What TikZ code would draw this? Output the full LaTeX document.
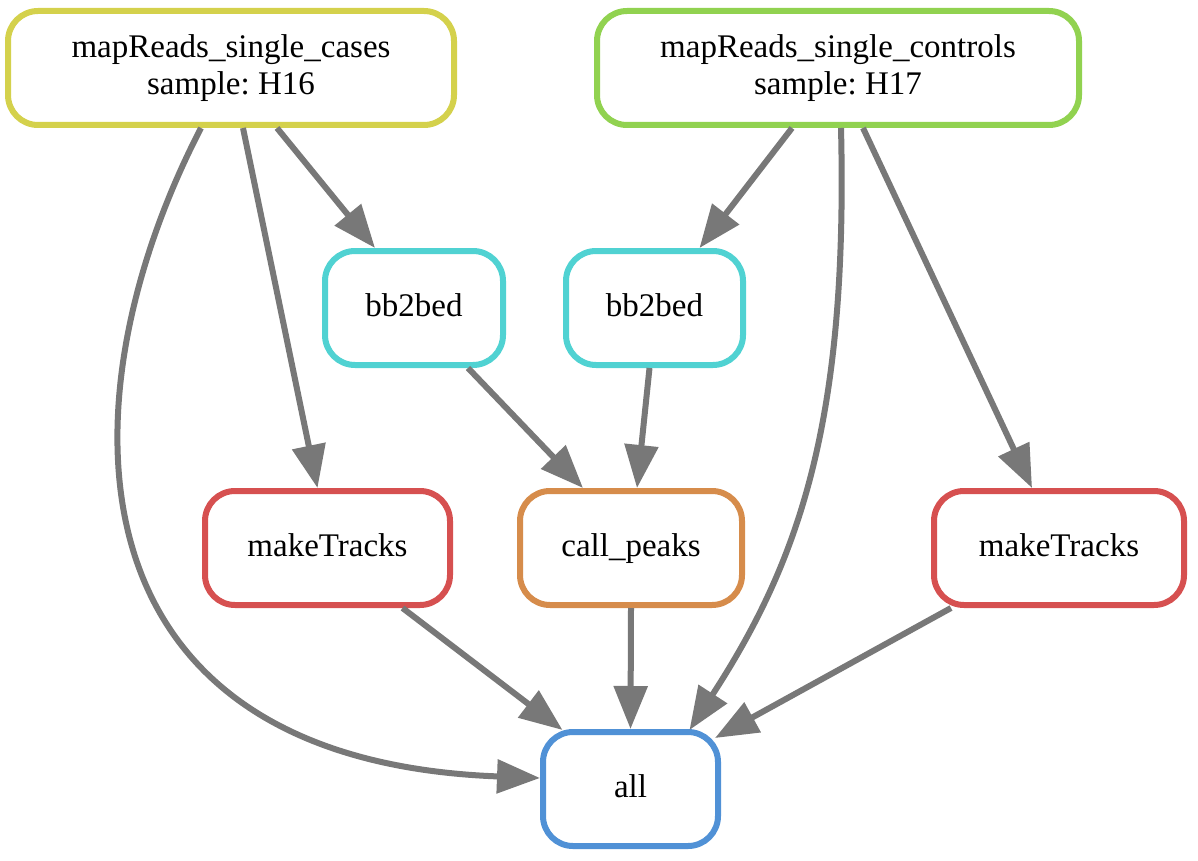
\documentclass[tikz,border=0pt]{standalone}
\usepackage{fontspec}
\setmainfont{Liberation Serif}
\usetikzlibrary{arrows.meta}
\frenchspacing
\definecolor{casecol}{RGB}{212,209,76}
\definecolor{ctrlcol}{RGB}{145,210,80}
\definecolor{bedcol}{RGB}{80,210,210}
\definecolor{trackcol}{RGB}{214,80,80}
\definecolor{peakcol}{RGB}{214,140,75}
\definecolor{allcol}{RGB}{80,145,214}
\definecolor{edgecol}{RGB}{120,120,120}
\begin{document}
\begin{tikzpicture}[x=1pt,y=-1pt,
    rule/.style={draw, line width=6pt, rounded corners=30pt, fill=white, align=center,
        minimum height=114pt, inner sep=0pt, font=\fontsize{33}{37}\selectfont},
    oneline/.style={rule, text height=23pt, text depth=7pt},
    dep/.style={draw=edgecol, line width=6pt, -{Triangle[length=43pt,width=33pt]}}]
    \useasboundingbox (0,0) rectangle (1198,861);

    \node[rule, draw=casecol, minimum width=446pt] (cases) at (231,68) {mapReads\_single\_cases\\sample: H16};
    \node[rule, draw=ctrlcol, minimum width=482pt] (controls) at (838,68) {mapReads\_single\_controls\\sample: H17};
    \node[oneline, draw=bedcol, minimum width=178pt] (bedL) at (414,308) {bb2bed};
    \node[oneline, draw=bedcol, minimum width=177pt] (bedR) at (654.5,308) {bb2bed};
    \node[oneline, draw=trackcol, minimum width=245pt] (trackL) at (327.5,548) {makeTracks};
    \node[oneline, draw=peakcol, minimum width=222pt] (peaks) at (631,548) {call\_peaks};
    \node[oneline, draw=trackcol, minimum width=250pt] (trackR) at (1059,548) {makeTracks};
    \node[oneline, draw=allcol, minimum width=175pt] (all) at (630.5,789) {all};

    \draw[dep] ([xshift=46pt]cases.south) -- ([xshift=-39pt]bedL.north);
    \draw[dep] ([xshift=12pt]cases.south) -- ([xshift=-10pt]trackL.north);
    \draw[dep] ([xshift=-30pt]cases.south) .. controls (60,400) and (60,760) .. ([yshift=11pt]all.west);
    \draw[dep] ([xshift=-46pt]controls.south) -- ([xshift=45pt]bedR.north);
    \draw[dep] ([xshift=3pt]controls.south) .. controls (848,420) and (800,560) .. ([xshift=59pt,yshift=-1pt]all.north);
    \draw[dep] ([xshift=25pt]controls.south) -- ([xshift=-27pt]trackR.north);
    \draw[dep] ([xshift=54pt]bedL.south) -- ([xshift=-48pt]peaks.north);
    \draw[dep] ([xshift=-5pt]bedR.south) -- ([xshift=6pt]peaks.north);
    \draw[dep] ([xshift=75pt]trackL.south) -- ([xshift=-68pt,yshift=-1pt]all.north);
    \draw[dep] (peaks.south) -- (all.north);
    \draw[dep] ([xshift=-108pt]trackR.south) -- ([xshift=-6pt,yshift=-9pt]all.north east);
\end{tikzpicture}
\end{document}
